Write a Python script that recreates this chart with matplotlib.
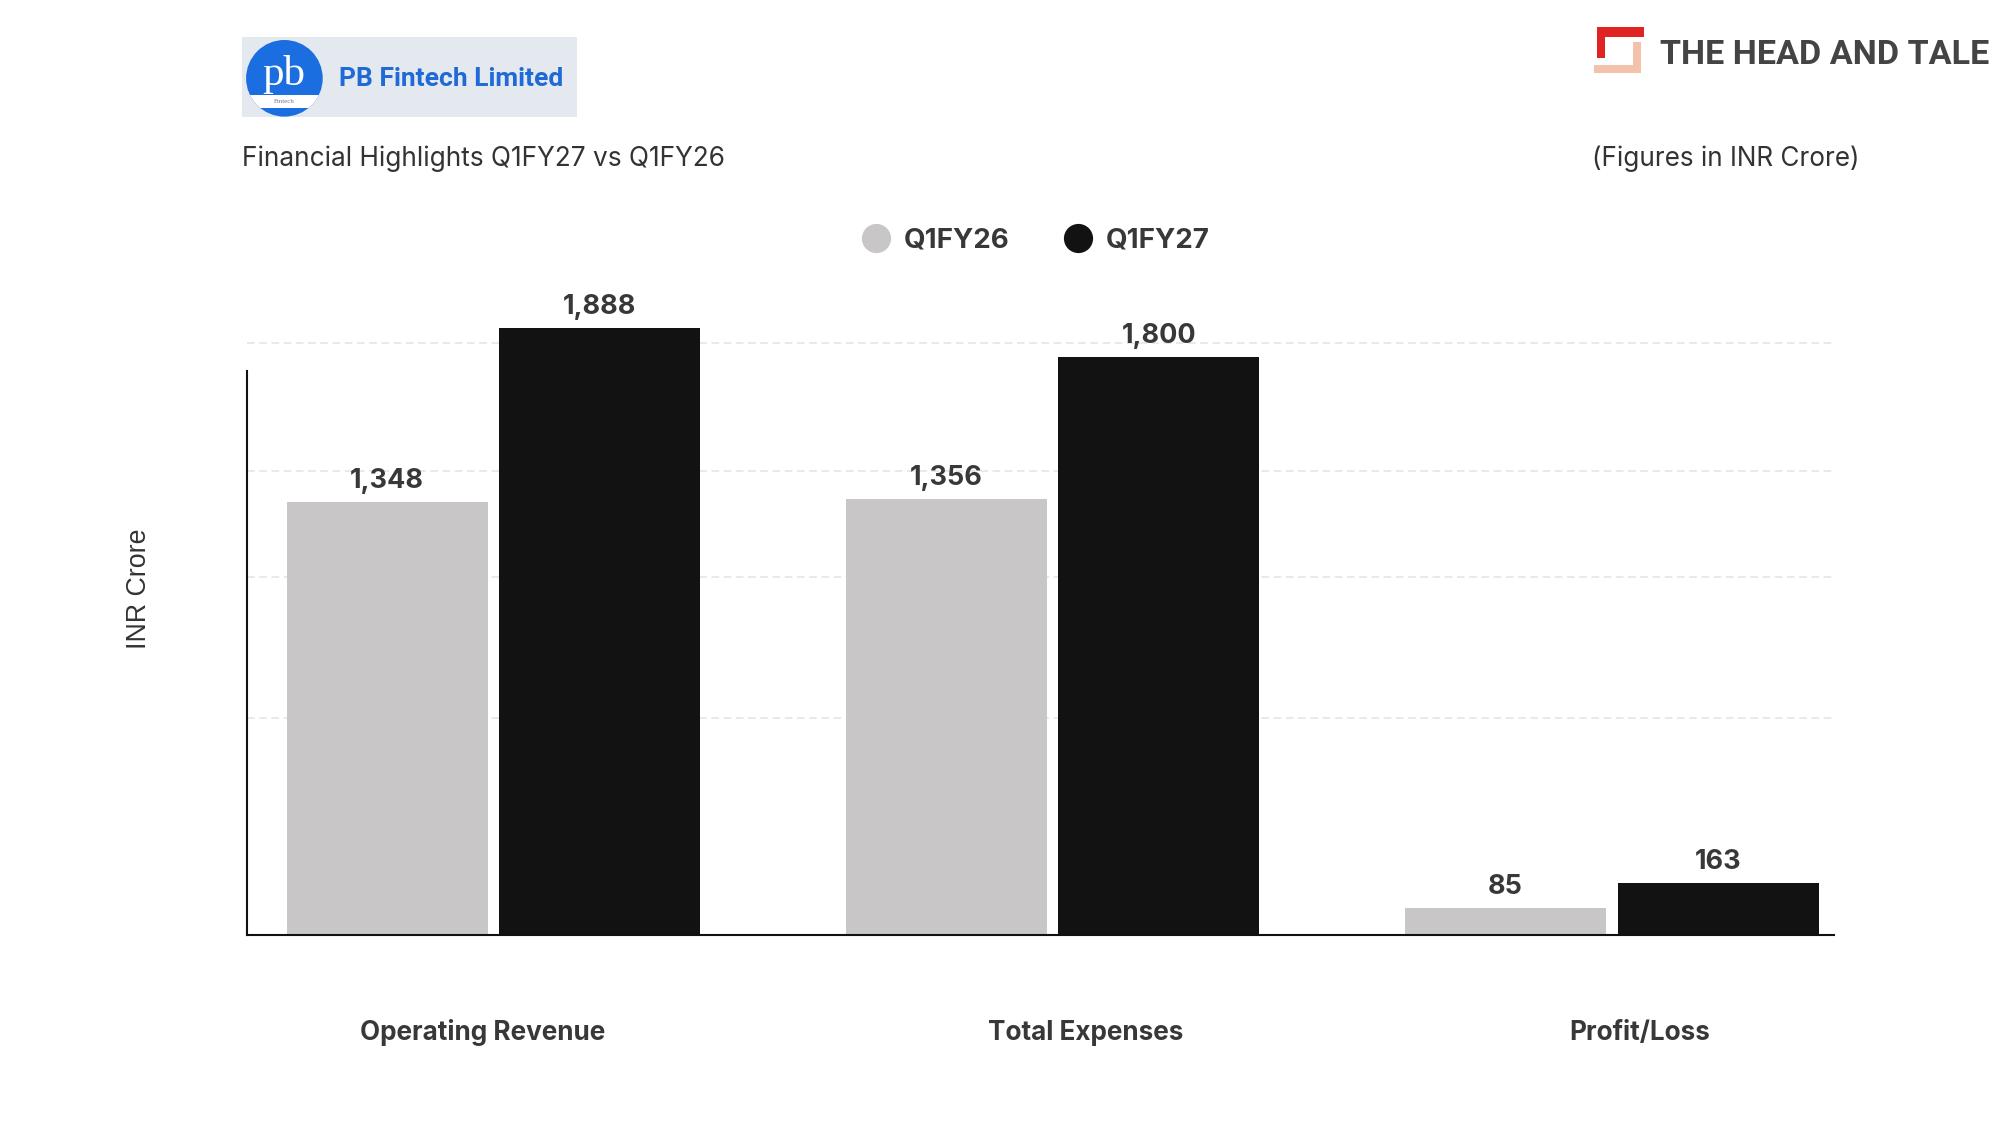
import matplotlib
matplotlib.use("Agg")
import matplotlib.pyplot as plt
import numpy as np
from matplotlib.patches import Rectangle, Circle
from matplotlib.lines import Line2D

# data
categories = ["Operating Revenue", "Total Expenses", "Profit/Loss"]
series_names = ["Q1FY26", "Q1FY27"]
q1fy26 = [1348, 1356, 85]
q1fy27 = [1888, 1800, 163]
grid_levels = [675, 1114, 1444, 1842]

# styling
colors = ["#c9c6c7", "#121212"]
text_dark = "#383838"
label_dx = [-0.02, 0.06, 0.05]

plt.rcParams["font.family"] = ["Inter", "DejaVu Sans"]

fig = plt.figure(figsize=(20, 11.32), dpi=100)
fig.patch.set_facecolor("white")

# background layer in pixel coordinates (for logos / header)
bg = fig.add_axes([0, 0, 1, 1], zorder=0)
bg.set_xlim(0, 2000)
bg.set_ylim(1132, 0)
bg.axis("off")

# PB Fintech logo block
bg.add_patch(Rectangle((241.5, 37.3), 335, 79.4, color="#e4e8ef", lw=0))
logo = Circle((284.4, 78.3), 38.3, color="#1a6ee0", lw=0)
bg.add_patch(logo)
band = Rectangle((240, 95), 90, 12.5, color="white", lw=0)
bg.add_patch(band)
band.set_clip_path(logo)
bg.text(283.7, 85, "pb", color="white", fontsize=31, family="Liberation Serif",
        ha="center", va="baseline")
bg.text(284.4, 101.5, "Fintech", color="#6b7b95", fontsize=5, family="Liberation Serif",
        ha="center", va="center")
bg.text(339, 79, "PB Fintech Limited", color="#1f6ad6", fontsize=19, fontweight="bold",
        family=["Roboto", "DejaVu Sans"], ha="left", va="center")

bg.text(241.5, 166, "Financial Highlights Q1FY27 vs Q1FY26", color="#333333", fontsize=18.9,
        ha="left", va="baseline")
bg.text(1859, 166, "(Figures in INR Crore)", color="#333333", fontsize=18.8,
        ha="right", va="baseline")

# The Head and Tale mark
red, peach = "#e02424", "#f2c2aa"
bg.add_patch(Rectangle((1596.7, 27.3), 47.6, 9.4, color=red, lw=0))
bg.add_patch(Rectangle((1596.7, 27.3), 8.3, 31, color=red, lw=0))
bg.add_patch(Rectangle((1594.3, 65), 46.4, 8.3, color=peach, lw=0))
bg.add_patch(Rectangle((1632.7, 42.3), 8, 31, color=peach, lw=0))
brand = bg.text(1660, 63.5, "THE HEAD AND TALE", color="#444444", fontsize=27, fontweight="bold",
                family=["Roboto", "DejaVu Sans"], ha="left", va="baseline")
# no condensed face installed: shrink so the wordmark fits the same width
renderer = fig.canvas.get_renderer()
w = brand.get_window_extent(renderer).width
brand.set_fontsize(27 * 330 / w)

# y axis title
bg.text(139.5, 588.6, "INR Crore", color="#333333", fontsize=19.3, family="Liberation Sans",
        rotation=90, ha="center", va="center")

# main bar chart
ax = fig.add_axes([0.1235, 0.174, 0.7934, 0.5677], zorder=1)
ax.set_facecolor("none")
x = np.arange(len(categories))
width = 0.3594
offset = 0.19

for lvl in grid_levels:
    ax.axhline(lvl, color="#e3e3e3", lw=1.1, ls=(0, (5, 3)), zorder=0)

for vals, off, col in [(q1fy26, -offset, colors[0]), (q1fy27, offset, colors[1])]:
    bars = ax.bar(x + off, vals, width, color=col, lw=0, zorder=2)
    for b, v in zip(bars, vals):
        ax.annotate(f"{v:,}", (b.get_x() + b.get_width() / 2, v), xytext=(0, 10),
                    textcoords="offset points", ha="center", va="baseline",
                    fontsize=19.5, fontweight="bold", color=text_dark, clip_on=False)

ax.set_xlim(-0.4405, 2.397)
ax.set_ylim(0, 2000)
ax.set_xticks([])
ax.set_yticks([])
for side in ["top", "right"]:
    ax.spines[side].set_visible(False)
ax.spines["left"].set_bounds(0, 1755)
for side in ["left", "bottom"]:
    ax.spines[side].set_color("#111111")
    ax.spines[side].set_linewidth(1.5)

for i, cat in enumerate(categories):
    ax.text(x[i] + label_dx[i], -0.152, cat, transform=ax.get_xaxis_transform(),
            ha="center", va="center", fontsize=18.8, fontweight="bold", color=text_dark)

handles = [Line2D([], [], marker="o", ls="none", markersize=20, color=c) for c in colors]
fig.legend(handles, series_names, loc="center", bbox_to_anchor=(0.518, 0.7874), ncol=2,
           frameon=False, handlelength=1, handletextpad=0.5, columnspacing=1.95,
           prop={"size": 20, "weight": "bold"}, labelcolor=text_dark)

fig.savefig("out.png", dpi=100, facecolor="white")
